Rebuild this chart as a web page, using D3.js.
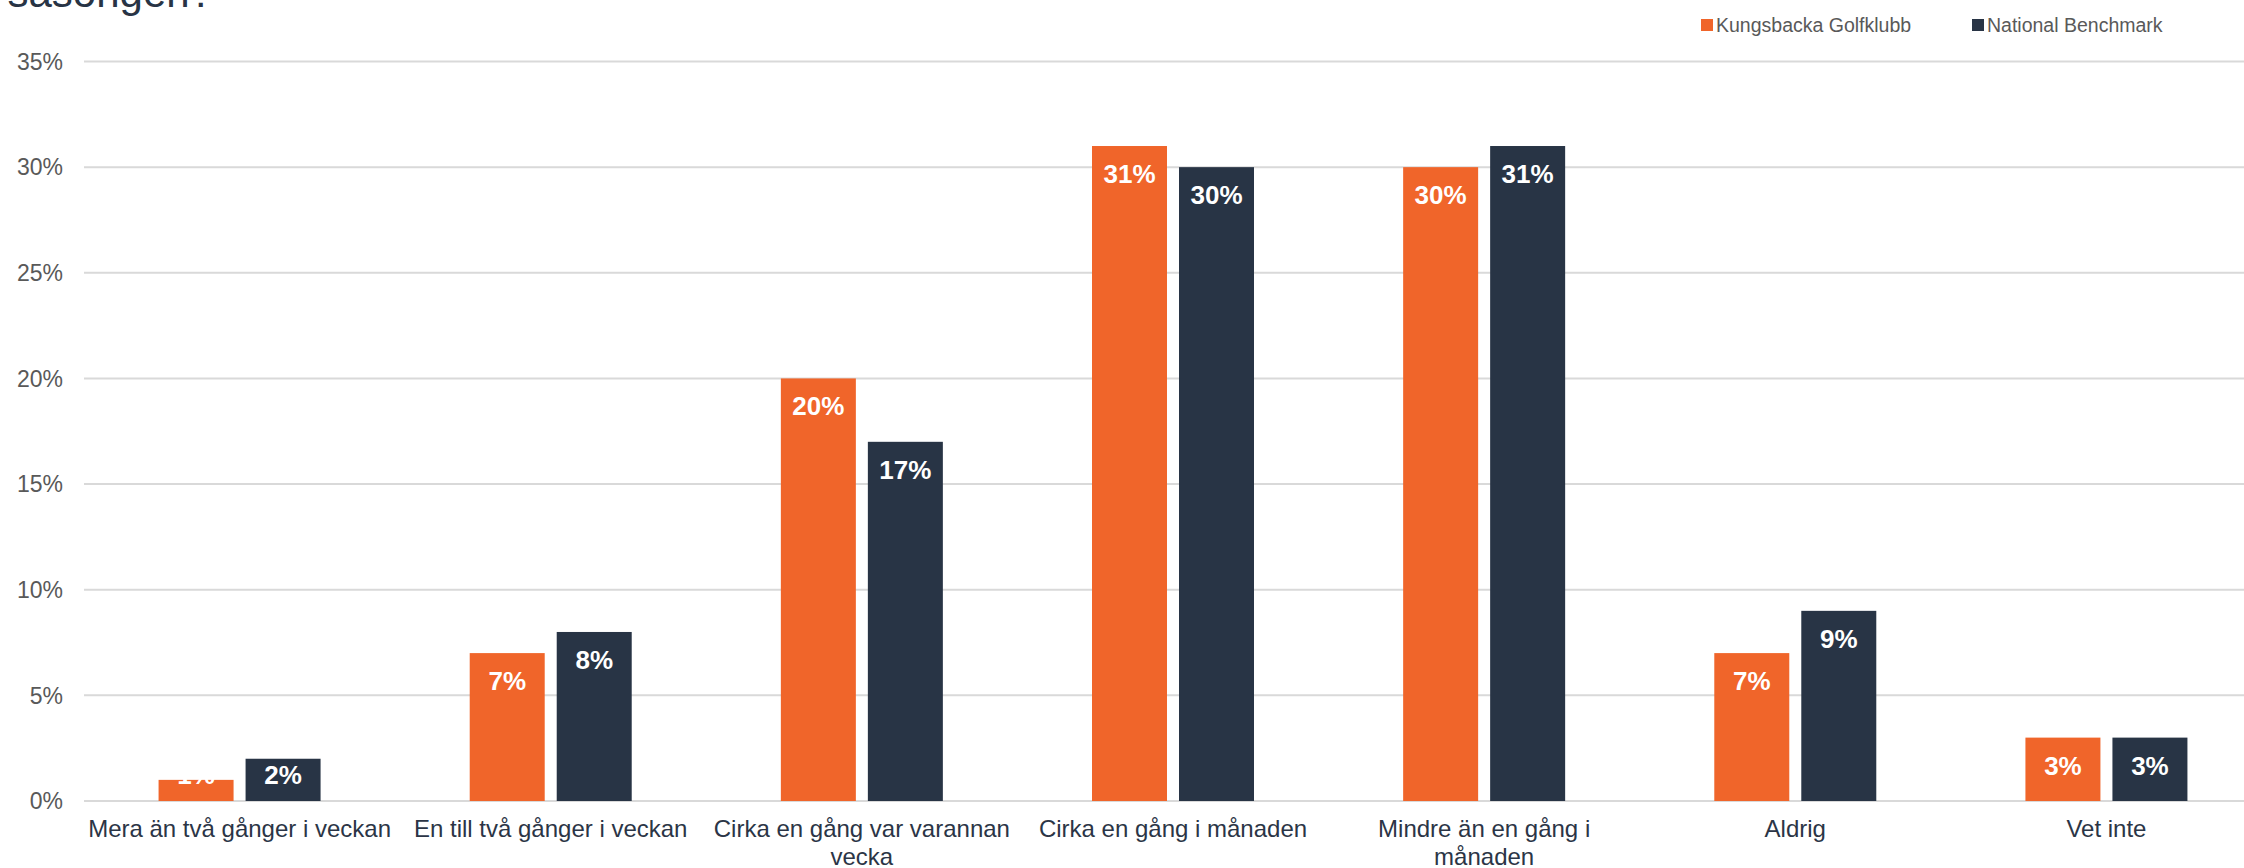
<!DOCTYPE html>
<meta charset="utf-8">
<head>
<script src="https://d3js.org/d3.v7.min.js"></script>
<style>
    body { margin: 0; background: #fff; }
    svg { display: block; font-family: "Liberation Sans", Arial, sans-serif; }
    .grid line { stroke: #d9d9d9; stroke-width: 2px; }
    .tick-label { fill: #595959; font-size: 23px; }
    .cat-label { fill: #2b3546; font-size: 24px; }
    .bar-label { fill: #fff; font-size: 26px; font-weight: bold; }
    .legend text { fill: #595959; font-size: 19.5px; }
</style>
</head>
<body>
<svg id="chart" width="2244" height="868"></svg>

<script>
    // chart data
    var categories = ["Mera än två gånger i veckan", "En till två gånger i veckan",
      "Cirka en gång var varannan vecka", "Cirka en gång i månaden",
      "Mindre än en gång i månaden", "Aldrig", "Vet inte"];
    var seriesNames = ["Kungsbacka Golfklubb", "National Benchmark"];
    var kungsbacka = [1, 7, 20, 31, 30, 7, 3];
    var national = [2, 8, 17, 30, 31, 9, 3];
    var yTicks = [0, 5, 10, 15, 20, 25, 30, 35];
    var colors = ["#f0652a", "#283445"];

    var svg = d3.select("#chart");

    // plot area (the chart runs a bit past the right edge, as in the original)
    var plotLeft = 84, plotRight = 2262, plotTop = 61.5, plotBottom = 801;

    var x0 = d3.scaleBand().domain(categories).range([plotLeft, plotRight]).padding(0);
    var x1 = d3.scaleBand().domain(seriesNames).range([0, 162]).paddingInner(0.138);
    var y = d3.scaleLinear().domain([0, 35]).range([plotBottom, plotTop]);

    // title fragment, cut off at top
    svg.append("text")
      .attr("x", 213).attr("y", 7)
      .attr("text-anchor", "end")
      .attr("fill", "#283445")
      .style("font-size", "42px")
      .text("säsongen?");

    // gridlines
    svg.append("g").attr("class", "grid")
      .selectAll("line")
      .data(yTicks)
      .enter().append("line")
      .attr("x1", plotLeft).attr("x2", plotRight)
      .attr("y1", function(d) { return y(d); })
      .attr("y2", function(d) { return y(d); });

    // y tick labels
    svg.append("g")
      .selectAll("text")
      .data(yTicks)
      .enter().append("text")
      .attr("class", "tick-label")
      .attr("x", 63)
      .attr("y", function(d) { return y(d); })
      .attr("dy", "0.36em")
      .attr("text-anchor", "end")
      .text(function(d) { return d + "%"; });

    // bars
    var rows = categories.map(function(c, i) {
      return { cat: c, values: [kungsbacka[i], national[i]] };
    });
    var groups = svg.append("g")
      .selectAll("g")
      .data(rows)
      .enter().append("g")
      .attr("transform", function(d) {
        return "translate(" + (x0(d.cat) + (x0.bandwidth() - 162) / 2) + ",0)";
      });

    var cells = groups.selectAll("g")
      .data(function(d) {
        return d.values.map(function(v, j) { return { name: seriesNames[j], v: v, j: j }; });
      })
      .enter().append("g");

    cells.append("rect")
      .attr("x", function(d) { return x1(d.name); })
      .attr("width", x1.bandwidth())
      .attr("y", function(d) { return y(d.v); })
      .attr("height", function(d) { return y(0) - y(d.v); })
      .attr("fill", function(d) { return colors[d.j]; });

    cells.append("text")
      .attr("class", "bar-label")
      .attr("x", function(d) { return x1(d.name) + x1.bandwidth() / 2; })
      .attr("y", function(d) { return Math.min(y(d.v) + 37, y(0) - 17); })
      .attr("text-anchor", "middle")
      .text(function(d) { return d.v + "%"; });

    // category labels, wrapped to the band width
    var catText = svg.append("g")
      .selectAll("text")
      .data(categories)
      .enter().append("text")
      .attr("class", "cat-label")
      .attr("text-anchor", "middle")
      .attr("x", function(d) { return x0(d) + x0.bandwidth() / 2; })
      .attr("y", 837);

    catText.each(function(d) {
      var el = d3.select(this), words = d.split(" "), line = [];
      var cx = x0(d) + x0.bandwidth() / 2;
      var ts = el.append("tspan").attr("x", cx);
      words.forEach(function(w) {
        line.push(w);
        ts.text(line.join(" "));
        if (ts.node().getComputedTextLength() > x0.bandwidth() - 5 && line.length > 1) {
          line.pop();
          ts.text(line.join(" "));
          line = [w];
          ts = el.append("tspan").attr("x", cx).attr("dy", 28).text(w);
        }
      });
    });

    // legend
    var legendX = [1701, 1972];
    var legend = svg.append("g").attr("class", "legend")
      .selectAll("g")
      .data(seriesNames)
      .enter().append("g")
      .attr("transform", function(d, i) { return "translate(" + legendX[i] + ",0)"; });
    legend.append("rect")
      .attr("x", 0).attr("y", 19)
      .attr("width", 12).attr("height", 12)
      .attr("fill", function(d, i) { return colors[i]; });
    legend.append("text")
      .attr("x", 15).attr("y", 32)
      .text(function(d) { return d; });
</script>
</body>
